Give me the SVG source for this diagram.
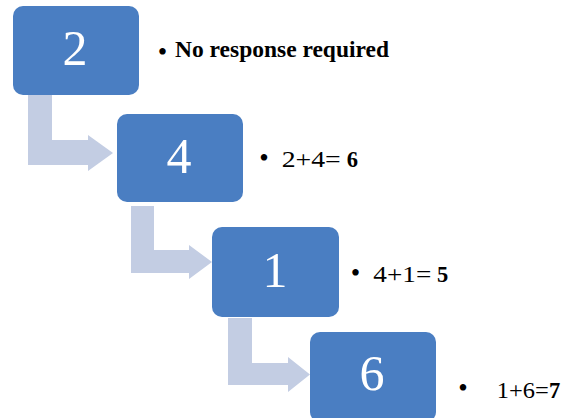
<svg xmlns="http://www.w3.org/2000/svg" width="566" height="418" viewBox="0 0 566 418">
<style>
.box{fill:#4A7EC2}
.arrow{fill:#C3CDE3}
.num{font-family:"Liberation Serif","Times New Roman",serif;font-size:50px;fill:#ffffff;text-anchor:middle}
.lbl{font-family:"Liberation Serif","Times New Roman",serif;font-size:22.5px;fill:#000000}
.bul{font-family:"Liberation Serif","Times New Roman",serif;font-size:27px;fill:#000000;text-anchor:middle}
.b{font-weight:bold}
</style>
<rect width="566" height="418" fill="#ffffff"/>
<g id="connectors">
<path class="arrow" d="M28,95 H52 V140 H88 V135 L113,153 L88,171 V165 H28 Z"/>
<path class="arrow" d="M131,206 H154 V250 H189 V245 L212,262 L189,279 V273 H131 Z"/>
<path class="arrow" d="M228,318 H252 V363 H288 V357 L310,374.5 L288,392 V385 H228 Z"/>
</g>
<g id="node-2">
<rect class="box" x="13" y="6" width="126" height="89" rx="10"/>
<text class="num" x="75" y="64.5">2</text>
</g>
<g id="node-4">
<rect class="box" x="117" y="114" width="126" height="88" rx="10"/>
<text class="num" x="179" y="172.5">4</text>
</g>
<g id="node-1">
<rect class="box" x="212" y="227" width="127" height="90" rx="10"/>
<text class="num" x="275" y="286.5">1</text>
</g>
<g id="node-6">
<rect class="box" x="310" y="332" width="126" height="90" rx="10"/>
<text class="num" x="372" y="390">6</text>
</g>
<g id="label-1">
<text class="bul" x="162.5" y="60.7">•</text>
<text class="lbl b" x="175" y="57.3" textLength="214" lengthAdjust="spacingAndGlyphs">No response required</text>
</g>
<g id="label-2">
<text class="bul" x="264" y="167">•</text>
<text class="lbl" x="281.7" y="167.3" textLength="59" lengthAdjust="spacingAndGlyphs">2+4=</text>
<text class="lbl b" x="346.7" y="167.3">6</text>
</g>
<g id="label-3">
<text class="bul" x="355.5" y="282">•</text>
<text class="lbl" x="373.3" y="281.7" textLength="58" lengthAdjust="spacingAndGlyphs">4+1=</text>
<text class="lbl b" x="437" y="281.7">5</text>
</g>
<g id="label-4">
<text class="bul" x="463" y="397.3">•</text>
<text class="lbl" x="496.7" y="397.7" textLength="52" lengthAdjust="spacingAndGlyphs">1+6=</text>
<text class="lbl b" x="549" y="397.7">7</text>
</g>
</svg>
